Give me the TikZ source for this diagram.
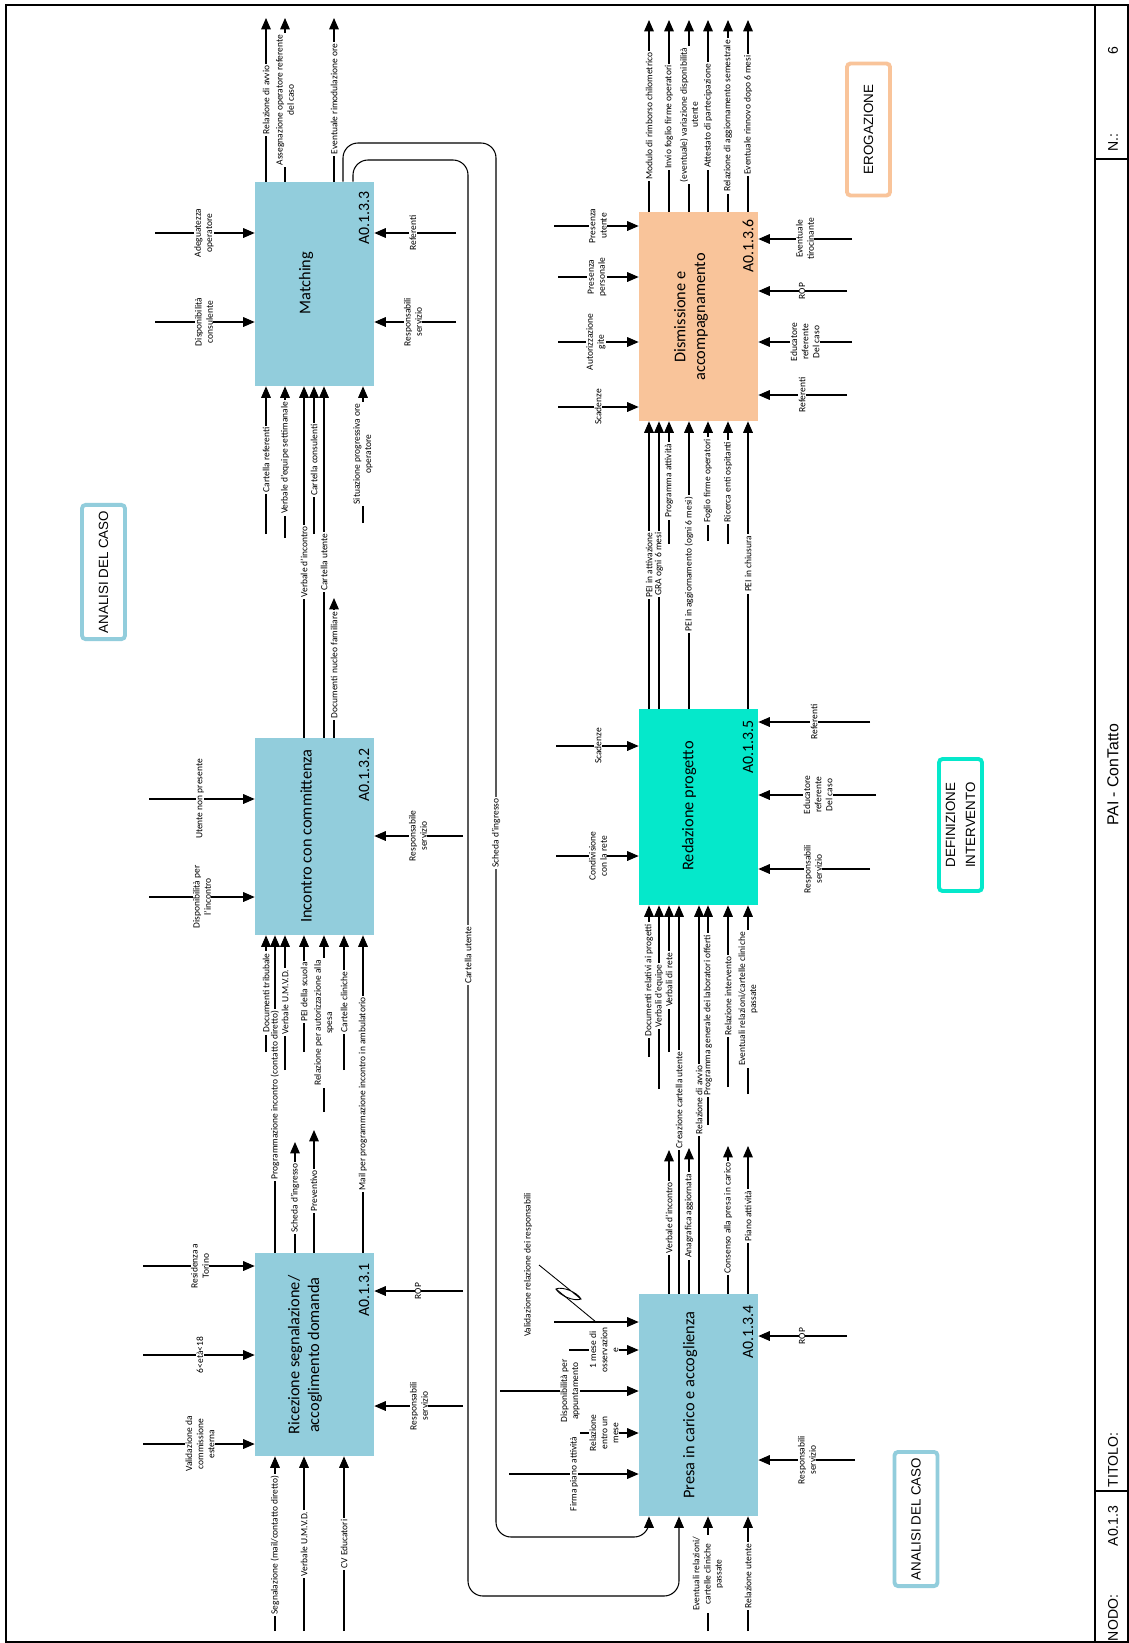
\documentclass[tikz,border=0pt]{standalone}
\usepackage{fontspec}
\setmainfont{Carlito}
\newfontfamily\arialfont{Liberation Sans}
\usetikzlibrary{positioning, arrows.meta, fit}

\definecolor{actblue}{RGB}{146,205,220}
\definecolor{actpeach}{RGB}{249,196,154}
\definecolor{actturq}{RGB}{5,232,203}

\tikzset{
  arr/.style={-{Triangle[length=6.5pt, width=5.5pt]}, line width=0.6pt},
  lbl/.style={rotate=90, fill=white, inner xsep=1pt, inner ysep=0.2pt, align=center,
    font=\fontsize{5.4}{6.3}\selectfont},
  act/.style={fill=#1, draw=none, inner sep=0pt},
  acttitle/.style={rotate=90, align=center, font=\fontsize{9.3}{11.3}\selectfont},
  actid/.style={rotate=90, font=\fontsize{9}{10}\selectfont},
  phase/.style={rotate=90, draw=#1, line width=2.2pt, rounded corners=2pt, fill=white,
    align=center, minimum width=2.64cm, minimum height=0.86cm,
    font=\arialfont\fontsize{7.6}{11.3}\selectfont},
  footer/.style={rotate=90, font=\arialfont\fontsize{8}{9}\selectfont}
}

\begin{document}
\begin{tikzpicture}[x=0.02cm, y=-0.02cm]
    \fill[white] (0,0) rectangle (1129,1643);
    \useasboundingbox (0,0) rectangle (1129,1643);
    % Frame and title strip
    \draw[line width=1.2pt] (6,5) rectangle (1128,1642);
    \draw[line width=1pt] (1095,5) -- (1095,1642);
    \draw[line width=1pt] (1095,159) -- (1128,159);
    \draw[line width=1pt] (1095,1491) -- (1128,1491);
    \node[footer] (fnum) at (1113,51) {6};
    \node[footer] (fn) at (1113,143) {N.:};
    \node[footer, font=\arialfont\fontsize{9}{10}\selectfont] (ftitle) at (1113,775) {PAI - ConTatto};
    \node[footer] (ftit) at (1113,1460) {TITOLO:};
    \node[footer] (fnode) at (1113,1526) {A0.1.3};
    \node[footer] (fnodo) at (1113,1618) {NODO:};

    % Phase labels
    \node[phase=actblue] (ph1) at (103.5,572) {ANALISI DEL CASO};
    \node[phase=actpeach] (ph2) at (868.5,129.5) {EROGAZIONE};
    \node[phase=actturq] (ph3) at (960.5,825) {DEFINIZIONE\\INTERVENTO};
    \node[phase=actblue] (ph4) at (916,1519) {ANALISI DEL CASO};

    % Activities
    \node[act=actblue, fit={(255,1253) (374,1456)}] (Ric) {};
    \node[act=actblue, fit={(255,738) (374,935)}] (Inc) {};
    \node[act=actblue, fit={(255,182) (374,386)}] (Mat) {};
    \node[act=actblue, fit={(639,1294) (758,1516)}] (Pres) {};
    \node[act=actturq, fit={(639,709) (758,905)}] (Red) {};
    \node[act=actpeach, fit={(639,212) (758,421)}] (Dis) {};
    \node[acttitle] (Ric-t) at (305,1355) {Ricezione segnalazione/\\accoglimento domanda};
    \node[acttitle] (Inc-t) at (306,836) {Incontro con committenza};
    \node[acttitle] (Mat-t) at (306,283) {Matching};
    \node[acttitle] (Pres-t) at (690,1405) {Presa in carico e accoglienza};
    \node[acttitle] (Red-t) at (689,806) {Redazione progetto};
    \node[acttitle] (Dis-t) at (691,317) {Dismissione e\\accompagnamento};
    \node[actid] (Ric-id) at (364,1290) {A0.1.3.1};
    \node[actid] (Inc-id) at (364,775) {A0.1.3.2};
    \node[actid] (Mat-id) at (364,218) {A0.1.3.3};
    \node[actid] (Pres-id) at (748,1332) {A0.1.3.4};
    \node[actid] (Red-id) at (748,747) {A0.1.3.5};
    \node[actid] (Dis-id) at (748,246) {A0.1.3.6};

    % Controls (from the left)
    \foreach \b/\y/\xf/\xl/\t [count=\i] in {
        Mat/233/155/204/{Adeguatezza\\operatore},
        Mat/322/155/204/{Disponibilità\\consulente},
        Inc/799/149/200/{Utente non presente},
        Inc/897/149/202/{Disponibilità per\\l’incontro},
        Ric/1266/143/200/{Residenza a\\Torino},
        Ric/1355/143/200/{6<età<18},
        Ric/1444/143/200/{Validazione da\\commissione\\esterna},
        Dis/226/554/598/{Presenza\\utente},
        Dis/277/558/597/{Presenza\\personale},
        Dis/342/558/596/{Autorizzazione\\gite},
        Dis/407/558/598/{Scadenze},
        Red/746/556/598/{Scadenze},
        Red/856/556/598/{Condivisione\\con la rete},
        Pres/1350/569/604/{1 mese di\\osservazion\\e},
        Pres/1391/500/570/{Disponibilità per\\appuntamento},
        Pres/1433/580/604/{Relazione\\entro un\\mese},
        Pres/1474/509/574/{Firma piano attività}} {
        \coordinate (c\i) at (\xf,\y);
        \draw[arr] (c\i) -- (c\i -| \b.west);
        \node[lbl] (ct\i) at (\xl,\y) {\t};
    }
    \coordinate (cval) at (554,1322);
    \draw[arr] (cval) -- (cval -| Pres.west);
    \node[lbl] (cvalt) at (528,1265) {Validazione relazione dei responsabili};
    \draw[line width=0.5pt] (539,1265) -- (581,1299)
        .. controls (574,1302) and (559,1295) .. (556,1289)
        .. controls (562,1286) and (577,1292) .. (581,1299);
    \draw[line width=0.5pt] (556,1289) -- (596,1322);

    % Mechanisms (from the right)
    \foreach \b/\y/\xf/\xl/\t [count=\i] in {
        Mat/233/456/413/{Referenti},
        Mat/322/456/413/{Responsabili\\servizio},
        Inc/836/463/418/{Responsabile\\servizio},
        Ric/1291/463/418/{ROP},
        Ric/1406/463/419/{Responsabili\\servizio},
        Dis/239/852/805/{Eventuale\\tirocinante},
        Dis/291/847/802/{ROP},
        Dis/342/852/805/{Educatore\\referente\\Del caso},
        Dis/395/847/802/{Referenti},
        Red/722/870/814/{Referenti},
        Red/795/876/818/{Educatore\\referente\\Del caso},
        Red/869/870/813/{Responsabili\\servizio},
        Pres/1336/847/802/{ROP},
        Pres/1460/855/807/{Responsabili\\servizio}} {
        \coordinate (m\i) at (\xf,\y);
        \draw[arr] (m\i) -- (m\i -| \b.east);
        \node[lbl] (mt\i) at (\xl,\y) {\t};
    }

    % Inputs (from below)
    \foreach \b/\x/\yf/\yl/\t [count=\i] in {
        Mat/266/534/460/{Cartella referenti},
        Mat/285/538/458/{Verbale d’equipe settimanale},
        Mat/314/534/460/{Cartella consulenti},
        Mat/363/523/454/{Situazione progressiva ore\\operatore},
        Inc/266/1052/993/{Documenti tribubale},
        Inc/285/1070/1002/{Verbale U.M.V.D.},
        Inc/304/1052/992/{PEI della scuola},
        Inc/324/1112/1023/{Relazione per autorizzazione alla\\spesa},
        Inc/344/1070/1002/{Cartelle cliniche},
        Ric/275/1631/1545/{Segnalazione (mail/contatto diretto)},
        Ric/304/1631/1544/{Verbale U.M.V.D.},
        Ric/344/1631/1544/{CV Educatori},
        Dis/669/544/481/{Programma attività},
        Dis/708/541/481/{Foglio firme operatori},
        Dis/728/544/482/{Ricerca enti ospitanti},
        Red/649/1057/980/{Documenti relativi ai progetti},
        Red/659/1089/996/{Verbali d’equipe},
        Red/669/1052/980/{Verbali di rete},
        Red/708/1125/1015/{Programma generale dei laboratori offerti},
        Red/728/1087/996/{Relazione intervento},
        Red/748/1094/999/{Eventuali relazioni/cartelle cliniche\\passate},
        Pres/708/1631/1574/{Eventuali relazioni/\\cartelle cliniche\\passate},
        Pres/748/1631/1576/{Relazione utente}} {
        \coordinate (i\i) at (\x,\yf);
        \draw[arr] (i\i) -- (i\i |- \b.south);
        \node[lbl] (it\i) at (\x,\yl) {\t};
    }

    % Outputs (upwards)
    \foreach \b/\x/\yf/\yl/\t [count=\i] in {
        Mat/266/18/100/{Relazione di avvio},
        Mat/285/18/100/{Assegnazione operatore referente\\del caso},
        Mat/334/18/99/{Eventuale rimodulazione ore},
        Inc/334/598/665/{Documenti nucleo familiare},
        Ric/295/1142/1198/{Scheda d’ingresso},
        Ric/314/1130/1191/{Preventivo},
        Dis/649/20/116/{Modulo di rimborso chilometrico},
        Dis/669/20/117/{Invio foglio firme operatori},
        Dis/689/20/115/{(eventuale) variazione disponibilità\\utente},
        Dis/708/20/116/{Attestato di partecipazione},
        Dis/728/20/116/{Relazione di aggiornamento semestrale},
        Dis/748/20/115/{Eventuale rinnovo dopo 6 mesi},
        Pres/669/1150/1218/{Verbale d’incontro},
        Pres/689/1148/1216/{Anagrafica aggiornata},
        Pres/728/1146/1218/{Consenso alla presa in carico},
        Pres/748/1146/1216/{Piano attività}} {
        \coordinate (o\i) at (\x,\yf);
        \draw[arr] (o\i |- \b.north) -- (o\i);
        \node[lbl] (ot\i) at (\x,\yl) {\t};
    }

    % Activity to activity
    \foreach \s/\d/\x/\yl/\t [count=\i] in {
        Ric/Inc/275/1095/{Programmazione incontro (contatto diretto)},
        Ric/Inc/363/1094/{Mail per programmazione incontro in ambulatorio},
        Inc/Mat/304/562/{Verbale d’incontro},
        Inc/Mat/324/562/{Cartella utente},
        Pres/Red/679/1100/{Creazione cartella utente},
        Pres/Red/699/1100/{Relazione di avvio},
        Red/Dis/649/565/{PEI in attivazione},
        Red/Dis/659/564/{GRA ogni 6 mesi},
        Red/Dis/689/564/{PEI in aggiornamento (ogni 6 mesi)},
        Red/Dis/748/564/{PEI in chiusura}} {
        \draw[arr] (\x,0 |- \s.north) -- (\x,0 |- \d.south);
        \node[lbl] (ft\i) at (\x,\yl) {\t};
    }

    % Feedback from Matching to Presa in carico
    \draw[arr, rounded corners=0.3cm] (353,0 |- Mat.north) |- (468,160) |- (679,1596) -- (679,0 |- Pres.south);
    \draw[arr, rounded corners=0.3cm] (343,0 |- Mat.north) |- (496,143) |- (649,1537) -- (649,0 |- Pres.south);
    \node[lbl] (fb1) at (468,955) {Cartella utente};
    \node[lbl] (fb2) at (496,833) {Scheda d’ingresso};
\end{tikzpicture}
\end{document}
